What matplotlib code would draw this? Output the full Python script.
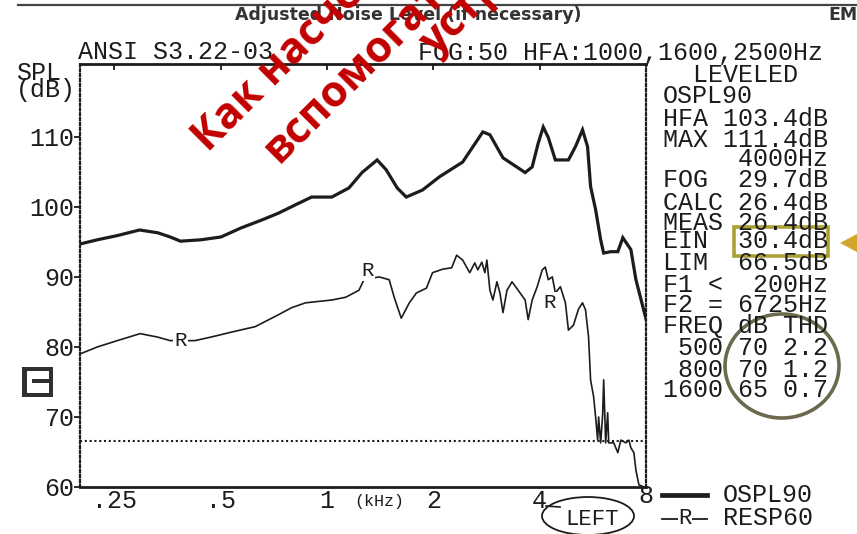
import matplotlib
matplotlib.use('Agg')
import matplotlib.pyplot as plt
from matplotlib.patches import Ellipse, Rectangle, Polygon
from matplotlib.lines import Line2D
from matplotlib.ticker import NullLocator, FixedLocator

W, H = 857, 534

# ---------------- data (Hz, dB SPL) ----------------
ospl_freq = [200, 224, 255, 295, 332, 360, 385, 440, 501, 572, 652, 729, 815, 905, 1032,
             1154, 1257, 1387, 1471, 1581, 1677, 1863, 2083, 2422, 2762, 2892, 3150, 3639,
             3810, 3963, 4095, 4232, 4431, 4825, 5052, 5289, 5466, 5575, 5761, 5953, 6071,
             6358, 6658, 6879, 7249, 7491, 8000]
ospl_db = [94.7, 95.3, 95.9, 96.7, 96.3, 95.7, 95.1, 95.3, 95.7, 97.0, 98.1, 99.1, 100.3,
           101.4, 101.4, 102.7, 104.9, 106.7, 105.3, 102.7, 101.4, 102.4, 104.3, 106.4,
           110.7, 110.3, 107.0, 104.9, 105.7, 109.1, 111.4, 109.9, 106.7, 106.7, 108.6,
           111.0, 108.6, 102.9, 99.6, 95.3, 93.4, 93.6, 93.6, 95.6, 93.9, 89.6, 84.0]

resp_freq = [200, 224, 255, 296, 332, 360, 423, 469, 535, 627, 729, 794, 870, 1032, 1131,
             1232, 1273, 1405, 1500, 1550, 1623, 1711, 1791, 1913, 1990, 2125, 2254, 2329,
             2422, 2536, 2621, 2673, 2744, 2799, 2836, 2892, 2949, 3028, 3088, 3150, 3233,
             3341, 3476, 3639, 3712, 3810, 3937, 4068, 4150, 4232, 4345, 4431, 4579, 4731,
             4825, 4986, 5152, 5289, 5394, 5502, 5575, 5686, 5761, 5837, 5875, 5953, 6031,
             6071, 6151, 6232, 6273, 6484, 6658, 6790, 7015, 7154, 7249, 7393, 7491, 7640,
             7900]
resp_db = [79.0, 80.0, 80.9, 81.9, 81.4, 80.9, 80.9, 81.4, 82.1, 82.9, 84.6, 85.6, 86.3,
           86.7, 87.1, 88.1, 89.6, 90.0, 89.6, 87.1, 84.1, 86.3, 87.7, 88.4, 90.6, 91.1,
           91.3, 93.1, 92.4, 90.6, 92.0, 91.0, 92.1, 90.6, 92.4, 88.1, 86.7, 89.3, 87.7,
           84.9, 88.1, 89.3, 88.1, 86.7, 83.9, 86.7, 88.6, 91.0, 91.4, 89.6, 90.0, 87.7,
           88.6, 86.3, 82.4, 83.1, 85.4, 86.3, 85.3, 81.4, 75.3, 72.9, 70.0, 66.7, 70.0,
           66.3, 70.3, 75.3, 66.3, 70.6, 66.3, 66.3, 64.9, 66.7, 66.3, 66.7, 65.6, 64.9,
           62.4, 60.3, 60.0]

r_mark_freq = [385, 1307, 4278]
r_mark_db = [80.9, 90.9, 86.4]

lim_db = 66.5
x_ticks = [250, 500, 1000, 2000, 4000, 8000]
x_tick_labels = ['.25', '.5', '1', '2', '4', '8']
y_ticks = [60, 70, 80, 90, 100, 110]

title_left = 'ANSI S3.22-03'
title_right = 'FOG:50 HFA:1000,1600,2500Hz'

panel_lines = ['  LEVELED', 'OSPL90', 'HFA 103.4dB', 'MAX 111.4dB', '     4000Hz',
               'FOG  29.7dB', 'CALC 26.4dB', 'MEAS 26.4dB', 'EIN  30.4dB', 'LIM  66.5dB',
               'F1 <  200Hz', 'F2 = 6725Hz', 'FREQ dB THD', ' 500 70 2.2', ' 800 70 1.2',
               '1600 65 0.7']
panel_baselines = [82, 103, 126, 147, 166, 187, 210, 230, 248, 270, 292, 312, 333, 355,
                   377, 397]

overlay_lines = ['Как насчет', 'вспомогательных', 'устройств?']

# ---------------- figure ----------------
plt.rcParams['font.family'] = ['Liberation Mono', 'DejaVu Sans Mono']
MONO = 18
INK = '#1c1c1c'

fig = plt.figure(figsize=(W / 100, H / 100), dpi=100)
fig.patch.set_facecolor('white')


def fx(x):
    return x / W


def fy(y):
    return 1 - y / H


ax_left, ax_right, ax_top, ax_bot = 80, 646, 64, 487
ax = fig.add_axes([fx(ax_left), fy(ax_bot), (ax_right - ax_left) / W, (ax_bot - ax_top) / H])
ax.set_facecolor('none')
ax.set_xscale('log')
ax.set_xlim(200, 8000)
ax.set_ylim(60, 120.4)

ax.plot(ospl_freq, ospl_db, color=INK, lw=2.3, solid_joinstyle='miter', zorder=3)
ax.plot(resp_freq, resp_db, color=INK, lw=1.2, zorder=3)
ax.axhline(lim_db, color=INK, lw=1.5, ls=(0, (1, 1.3)), zorder=2)

for f, d in zip(r_mark_freq, r_mark_db):
    ax.text(f, d, 'R', ha='center', va='center', fontsize=15, color=INK, zorder=4,
            bbox=dict(fc='white', ec='none', pad=0.6))

# axes frame
for s in ['top', 'bottom']:
    ax.spines[s].set_linewidth(2.0)
    ax.spines[s].set_color(INK)
for s in ['left', 'right']:
    ax.spines[s].set_linewidth(1.6)
    ax.spines[s].set_linestyle((0, (1, 1.2)))
    ax.spines[s].set_color(INK)

ax.xaxis.set_major_locator(FixedLocator(x_ticks[:-1]))
ax.xaxis.set_minor_locator(NullLocator())
ax.xaxis.set_ticks_position('top')
ax.tick_params(axis='x', direction='in', length=4, width=1.3, color=INK,
               labeltop=False, labelbottom=False)
ax.set_yticks(y_ticks)
ax.set_yticklabels([str(v) for v in y_ticks])
ax.tick_params(axis='y', direction='out', length=4, width=1.3, color=INK, pad=0,
               labelsize=MONO, labelcolor=INK)

xt = ax.get_xaxis_transform()
for f, lab in zip(x_ticks, x_tick_labels):
    yb = -0.050 if lab != '8' else -0.038
    ax.text(f, yb, lab, transform=xt, ha='center', va='baseline', fontsize=MONO,
            color=INK, clip_on=False)

# ---------------- texts ----------------
fig.text(fx(78), fy(59), title_left, fontsize=MONO, color=INK, va='baseline')
fig.text(fx(418), fy(60), title_right, fontsize=MONO, color=INK, va='baseline')
fig.text(fx(16), fy(80), 'SPL', fontsize=MONO, color=INK, va='baseline')
fig.text(fx(16), fy(97), '(dB)', fontsize=MONO, color=INK, va='baseline')
fig.text(fx(379), fy(506), '(kHz)', fontsize=12, color=INK, va='baseline', ha='center')

for line, yb in zip(panel_lines, panel_baselines):
    fig.text(fx(663), fy(yb), line, fontsize=MONO, color=INK, va='baseline', ha='left')

# legend
fig.add_artist(Line2D([fx(662), fx(707)], [fy(495), fy(495)], color=INK, lw=3.4))
fig.text(fx(723), fy(502), 'OSPL90', fontsize=MONO, color=INK, va='baseline')
fig.add_artist(Line2D([fx(662), fx(707)], [fy(519), fy(519)], color=INK, lw=1.3))
fig.text(fx(685), fy(519), 'R', fontsize=16, color=INK, va='center', ha='center',
         bbox=dict(fc='white', ec='none', pad=0.4))
fig.text(fx(723), fy(525), 'RESP60', fontsize=MONO, color=INK, va='baseline')

# LEFT ellipse
fig.add_artist(Ellipse((fx(588), fy(516)), 92 / W, 38 / H, fill=False, ec=INK, lw=1.3))
fig.text(fx(592), fy(525), 'LEFT', fontsize=16, color=INK, va='baseline', ha='center')
fig.add_artist(Line2D([fx(546), fx(560)], [fy(506), fy(507)], color=INK, lw=1.2))

# page header from scan
fig.add_artist(Line2D([fx(18), fx(857)], [fy(5), fy(5)], color='#444444', lw=1.6))
fig.text(fx(235), fy(20), 'Adjusted Noise Level (if necessary)', fontsize=12.5,
         family='DejaVu Sans', weight='bold', color='#333333', va='baseline')
fig.text(fx(828), fy(20), 'EM', fontsize=12.5, family='DejaVu Sans', weight='bold',
         color='#333333', va='baseline')

# small icon at left
ICON = '#303030'
for (x0, y0, x1, y1) in [(22, 367, 27, 397), (22, 367, 53, 371), (49, 367, 53, 397),
                         (32, 379, 53, 383), (22, 393, 53, 397)]:
    fig.add_artist(Rectangle((fx(x0), fy(y1)), (x1 - x0) / W, (y1 - y0) / H,
                             fc=ICON, ec='none'))

# annotations
fig.add_artist(Rectangle((fx(734), fy(256)), 94 / W, 29 / H, fill=False,
                         ec='#aca032', lw=2.6))
fig.add_artist(Polygon([(fx(840), fy(243)), (fx(857), fy(234)), (fx(857), fy(252))],
                       closed=True, fc='#d2a62c', ec='none'))
fig.add_artist(Ellipse((fx(782), fy(366)), 114 / W, 104 / H, fill=False,
                       ec='#6b6a4f', lw=2.6))

# red overlay
RED = '#c20000'
for txt, (x0, y0) in zip(overlay_lines, [(208, 153), (279, 164), (436, 57)]):
    fig.text(fx(x0), fy(y0), txt, rotation=45, rotation_mode='anchor', ha='left',
             va='baseline', color=RED, fontsize=31, weight='bold',
             family=['Open Sans', 'DejaVu Sans'])

fig.savefig('out.png', dpi=100)
